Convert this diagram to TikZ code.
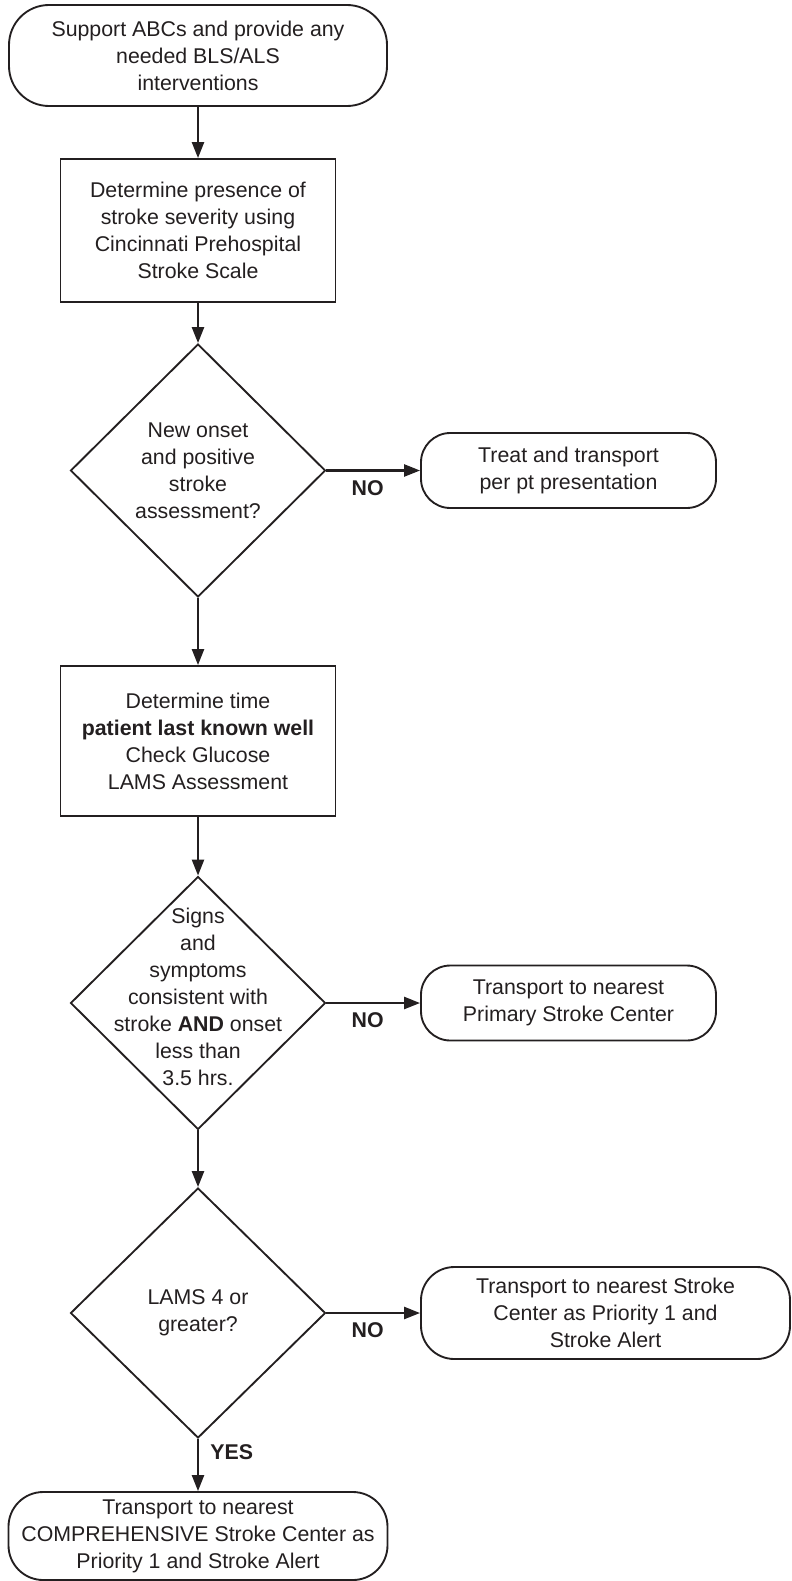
\documentclass[tikz,border=0pt]{standalone}
\usepackage{fontspec}
\setmainfont{Liberation Sans}
\usetikzlibrary{arrows.meta,positioning,shapes.geometric}
\definecolor{ink}{HTML}{231F20}
\newcommand{\flowfont}{\fontsize{16}{20.25}\selectfont}
\tikzset{
  term/.style={draw=ink,line width=1.4pt,rounded corners=22pt,align=center,font=\flowfont,
    text=ink,inner sep=0pt},
  procbox/.style={draw=ink,line width=1.4pt,align=center,font=\flowfont,text=ink,inner sep=0pt},
  dec/.style={draw=ink,line width=1.4pt,diamond,inner sep=0pt,
    minimum width=191.25pt,minimum height=189.75pt},
  dtext/.style={align=center,font=\flowfont,text=ink,inner sep=0pt},
  arr/.style={-{Triangle[length=12pt,width=9pt]},line width=1.8pt,draw=ink},
  lbl/.style={font=\flowfont\bfseries,text=ink},
}
\begin{document}
\begin{tikzpicture}[x=0.75pt,y=-0.75pt]
  \useasboundingbox (0,0) rectangle (792,1581);
  % main column
  \node[term,minimum width=283.5pt,minimum height=75.75pt,rounded corners=30pt] (abc) at (198,55.5)
    {Support ABCs and provide any\\needed BLS/ALS\\interventions};
  \node[procbox,minimum width=206.25pt,minimum height=107.25pt] (cps) at (198,230.5)
    {Determine presence of\\stroke severity using\\Cincinnati Prehospital\\Stroke Scale};
  \node[dec,label={[dtext]center:{New onset\\and positive\\stroke\\assessment?}}] (onset) at (198,470.5) {};
  \node[procbox,minimum width=206.25pt,minimum height=112.5pt] (lkw) at (198,741)
    {Determine time\\\textbf{patient last known well}\\Check Glucose\\LAMS Assessment};
  \node[dec,label={[dtext,yshift=4.5pt]center:{Signs\\and\\symptoms\\consistent with\\stroke \textbf{AND} onset\\less than\\3.5 hrs.}}] (signs) at (198,1003) {};
  \node[dec,minimum height=187.5pt,label={[dtext]center:{LAMS 4 or\\greater?}}] (lams) at (198,1313) {};
  \node[term,minimum width=284.25pt,minimum height=66pt,rounded corners=26pt] (csc) at (198,1536)
    {Transport to nearest\\COMPREHENSIVE Stroke Center as\\Priority 1 and Stroke Alert};
  % side exits
  \node[term,minimum width=221.25pt,minimum height=56.25pt] (treat) at (568.5,470.5)
    {Treat and transport\\per pt presentation};
  \node[term,minimum width=221.25pt,minimum height=56.25pt] (psc) at (568.5,1003)
    {Transport to nearest\\Primary Stroke Center};
  \node[term,minimum width=276.75pt,minimum height=69pt,rounded corners=25pt] (alert) at (605.5,1313)
    {Transport to nearest Stroke\\Center as Priority 1 and\\Stroke Alert};
  % connectors
  \draw[arr] (abc) -- (cps);
  \draw[arr] (cps) -- (onset);
  \draw[arr] (onset) -- (lkw);
  \draw[arr] (lkw) -- (signs);
  \draw[arr] (signs) -- (lams);
  \draw[arr] (lams.south) -- node[lbl,pos=0.26,anchor=west,xshift=5pt]{YES} (csc.north);
  \foreach \d/\t in {onset/treat,signs/psc,lams/alert}
    \draw[arr] (\d.east) -- node[lbl,pos=0.44,below=3pt]{NO} (\t.west);
\end{tikzpicture}
\end{document}
